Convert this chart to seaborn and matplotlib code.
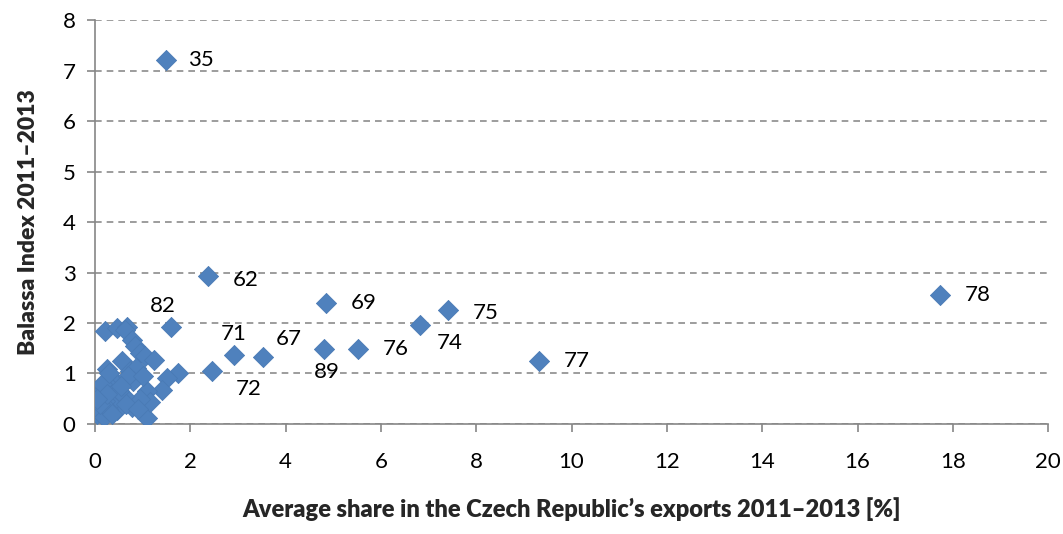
import matplotlib
matplotlib.use("Agg")
import matplotlib.pyplot as plt
import seaborn as sns
import pandas as pd

# Labelled product groups (SITC codes)
labels = ["35", "62", "82", "71", "67", "72", "69", "89", "76", "74", "75", "77", "78"]
label_x = [1.49, 2.37, 1.60, 2.92, 3.53, 2.46, 4.85, 4.81, 5.52, 6.82, 7.41, 9.32, 17.73]
label_y = [7.21, 2.93, 1.92, 1.37, 1.33, 1.05, 2.40, 1.49, 1.49, 1.96, 2.26, 1.25, 2.55]

# Unlabelled product groups (dense cluster near the origin)
other_x = [0.21, 0.46, 0.67, 0.62, 0.77, 0.84, 0.95, 1.05, 1.23, 0.56, 0.74, 0.85, 0.25,
           1.75, 1.51, 1.40, 1.09, 1.09, 0.77, 1.16, 0.95, 0.39, 0.11, 0.02, 0.05, 0.18,
           0.46, 0.39, 0.60, 0.32, 0.20, 0.28, 0.15, 0.50, 0.80, 0.35, 0.10, 0.65, 0.25,
           0.05, 0.30, 0.70, 0.55, 0.90, 1.00]
other_y = [1.84, 1.90, 1.93, 1.87, 1.67, 1.54, 1.41, 1.35, 1.27, 1.24, 1.05, 1.10, 1.08,
           1.00, 0.91, 0.68, 0.65, 0.11, 0.34, 0.44, 0.50, 0.87, 0.61, 0.34, 0.20, 0.14,
           0.27, 0.47, 0.55, 0.74, 0.45, 0.30, 0.80, 0.65, 0.85, 0.20, 0.40, 0.40, 0.60,
           0.50, 1.00, 0.95, 0.75, 0.30, 0.95]

x_ticks = [0, 2, 4, 6, 8, 10, 12, 14, 16, 18, 20]
y_ticks = [0, 1, 2, 3, 4, 5, 6, 7, 8]

# label offsets in points (dx, dy)
offsets = {"35": (16, 0), "62": (18, -3), "82": (-6, 15), "71": (0, 15), "67": (9, 13),
           "72": (17, -13), "69": (18, 0), "89": (2, -17), "76": (18, 0), "74": (12, -13),
           "75": (18, -2), "77": (18, 0), "78": (18, 0)}

df = pd.DataFrame({"x": other_x + label_x, "y": other_y + label_y})

sns.set_theme(style="white")
plt.rcParams["font.family"] = ["Lato", "DejaVu Sans"]

fig = plt.figure(figsize=(10.63, 5.34), dpi=100)
ax = fig.add_axes([0.0894, 0.206, 0.8966, 0.7565])

sns.scatterplot(data=df, x="x", y="y", ax=ax, marker="D", s=105,
                color="#4F81BD", edgecolor="#4a7ab5", linewidth=0.6, zorder=3)

for lab, lx, ly in zip(labels, label_x, label_y):
    dx, dy = offsets[lab]
    ha = "left" if dx > 4 else "center"
    ax.annotate(lab, (lx, ly), xytext=(dx, dy), textcoords="offset points",
                ha=ha, va="center", fontsize=16, color="black")

ax.set_xlim(0, 20)
ax.set_ylim(0, 8)
ax.set_xticks(x_ticks)
ax.set_yticks(y_ticks)
ax.tick_params(axis="both", labelsize=16, labelcolor="black", length=6, width=1.2,
               direction="out", bottom=True, left=True, color="#868686")
ax.tick_params(axis="x", pad=14)
ax.tick_params(axis="y", pad=8)

ax.yaxis.grid(True, linestyle=(0, (4, 3)), color="#8c8c8c", linewidth=1.2)
ax.set_axisbelow(True)
for side in ["top", "right"]:
    ax.spines[side].set_visible(False)
for side in ["left", "bottom"]:
    ax.spines[side].set_color("#868686")
    ax.spines[side].set_linewidth(1.2)

ax.set_xlabel("Average share in the Czech Republic\u2019s exports 2011\u20132013 [%]",
              fontsize=17, fontweight="heavy", labelpad=18)
ax.set_ylabel("Balassa Index 2011\u20132013", fontsize=16.5, fontweight="heavy", labelpad=17)

fig.savefig("out.png", dpi=100)
